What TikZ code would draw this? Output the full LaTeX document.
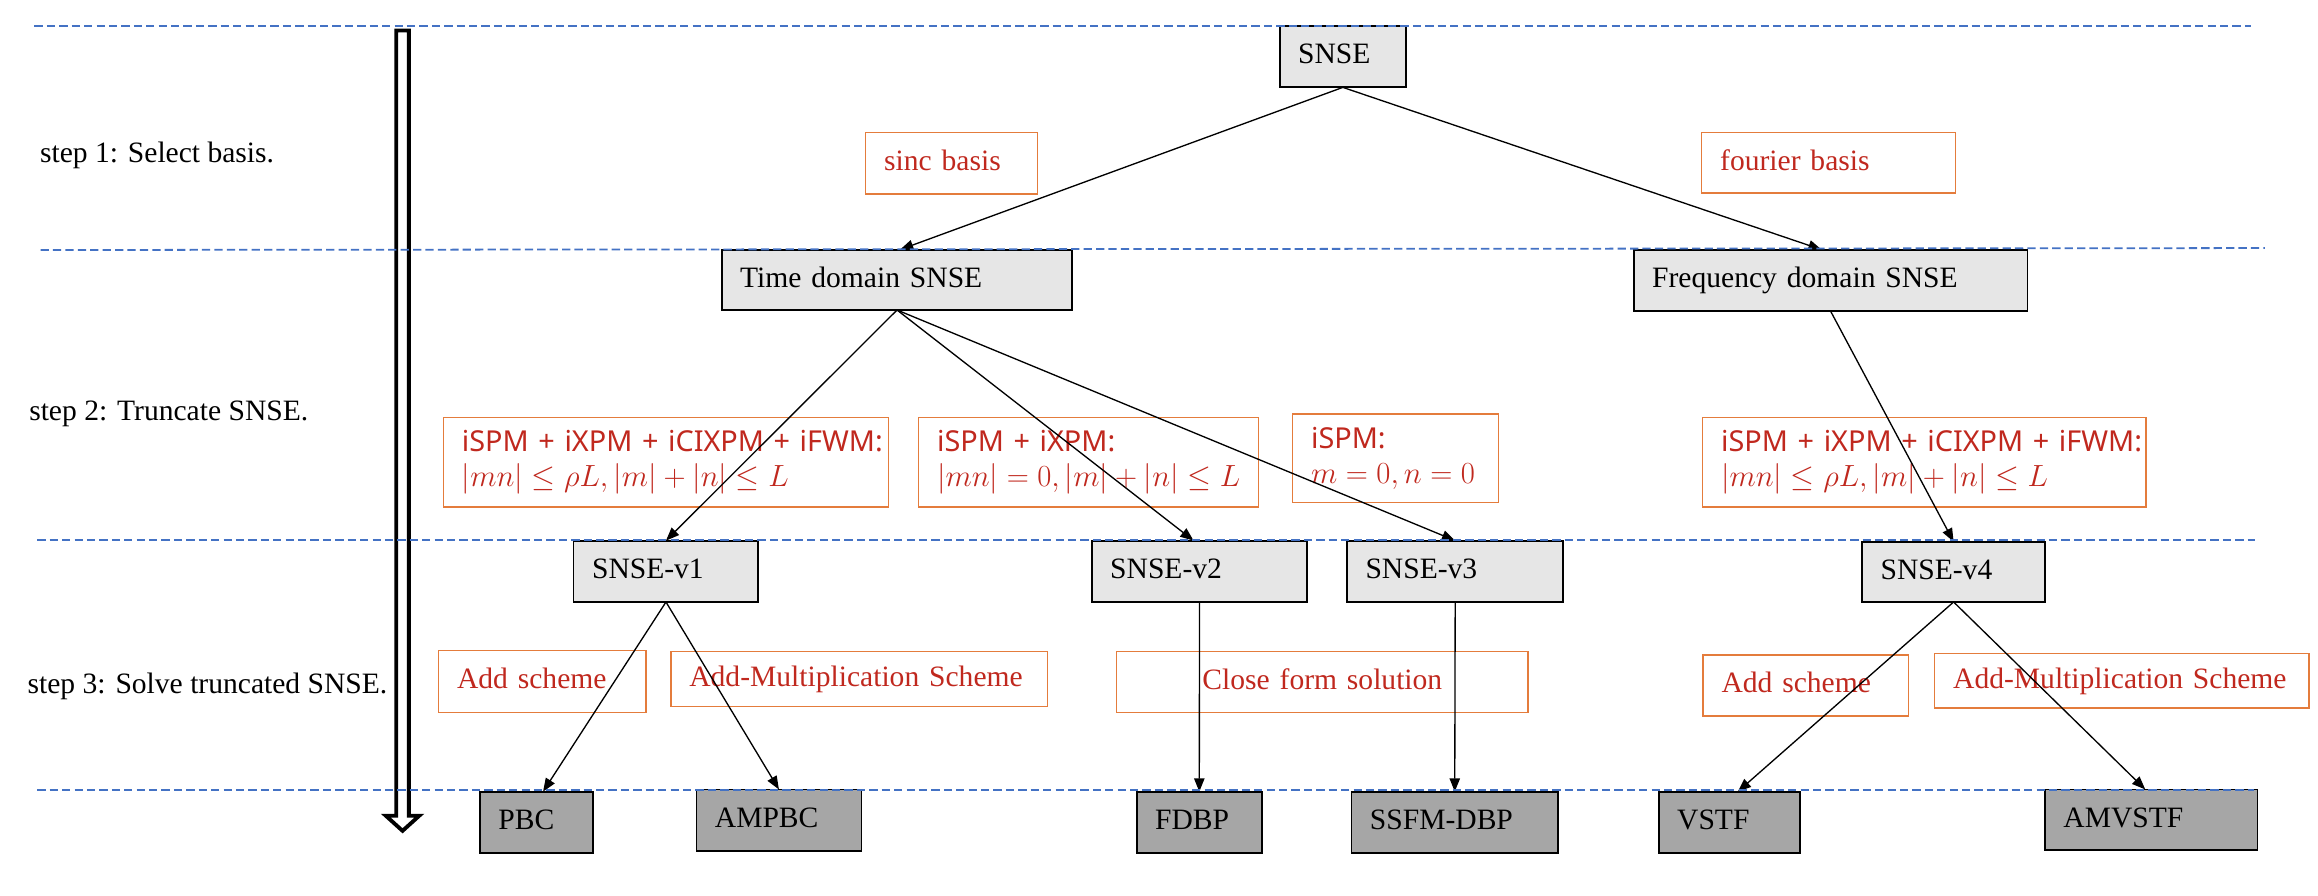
\documentclass[tikz,border=0pt]{standalone}
\usepackage{fontspec}
\setmainfont{Liberation Serif}
\newfontfamily\nsans{Noto Sans}
\usetikzlibrary{arrows.meta}
\definecolor{lightbox}{HTML}{E6E6E6}
\definecolor{darkbox}{HTML}{A6A6A6}
\definecolor{orline}{HTML}{E47C3C}
\definecolor{redtxt}{HTML}{C0281E}
\definecolor{dashblue}{HTML}{4472C4}
\begin{document}
\begin{tikzpicture}[x=1pt,y=-1pt,
  base/.style={anchor=north west, outer sep=0pt, inner xsep=12.5pt, inner ysep=0pt, align=left, font=\fontsize{20}{24}\selectfont, text height=14pt, text depth=4pt},
  gbox/.style={base, draw=black, line width=1.2pt, fill=lightbox},
  dbox/.style={gbox, fill=darkbox},
  obox/.style={base, draw=orline, line width=1pt, text=redtxt},
  tbox/.style={anchor=north west, outer sep=0pt, inner xsep=12.5pt, inner ysep=0pt, align=left, draw=orline, line width=1pt, text=redtxt, font=\nsans\fontsize{19.5}{23.7}\selectfont},
  steplabel/.style={anchor=west, inner sep=0pt, font=\fontsize{20}{24}\selectfont, text height=14pt, text depth=4pt},
  conn/.style={line width=0.9pt, -{Triangle[length=9pt,width=7pt]}},
  sepline/.style={dashblue, line width=1.2pt, dash pattern=on 5.6pt off 2.8pt}
]
\useasboundingbox (0,0) rectangle (1568,606);

% step labels
\node[steplabel] (s1) at (26.9,104.9) {step 1: Select basis.};
\node[steplabel] (s2) at (19.6,279.6) {step 2: Truncate SNSE.};
\node[steplabel] (s3) at (18.5,463.8) {step 3: Solve truncated SNSE.};

% hollow block arrow
\draw[line width=2.6pt, fill=white, miter limit=10] (268,20.6) -- (276.6,20.6) -- (276.6,551.8) -- (283.6,551.8) -- (272.3,562) -- (261,551.8) -- (268,551.8) -- cycle;

% gray nodes
\node[gbox, text width=60.5pt, minimum height=41.7pt] (snse) at (865.6,17.4) {SNSE};
\node[gbox, text width=212.2pt, minimum height=40.8pt] (time) at (488.2,168.9) {Time domain SNSE};
\node[gbox, text width=241.3pt, minimum height=41.5pt] (freq) at (1105.1,168.9) {Frequency domain SNSE};
\node[gbox, text width=100pt, minimum height=41.5pt] (v1) at (388,365.7) {SNSE-v1};
\node[gbox, text width=120.8pt, minimum height=41.5pt] (v2) at (738.5,365.7) {SNSE-v2};
\node[gbox, text width=121.3pt, minimum height=41.5pt] (v3) at (911.2,365.7) {SNSE-v3};
\node[gbox, text width=98.8pt, minimum height=40.8pt] (v4) at (1259.6,366.4) {SNSE-v4};
\node[dbox, text width=51.3pt, minimum height=41.3pt] (pbc) at (324.7,535.5) {PBC};
\node[dbox, text width=86.6pt, minimum height=41.7pt] (ampbc) at (471.1,534) {AMPBC};
\node[dbox, text width=59.7pt, minimum height=41.3pt] (fdbp) at (768.9,535.5) {FDBP};
\node[dbox, text width=114.7pt, minimum height=41.3pt] (ssfm) at (914.2,535.5) {SSFM-DBP};
\node[dbox, text width=70.8pt, minimum height=41.3pt] (vstf) at (1122,535.5) {VSTF};
\node[dbox, text width=118.7pt, minimum height=41pt] (amvstf) at (1383.3,534) {AMVSTF};

% orange label boxes
\node[obox, text width=91.1pt, minimum height=41.4pt] (sinc) at (585.6,89.8) {sinc basis};
\node[obox, text width=146.6pt, minimum height=40.8pt] (fourier) at (1151.1,89.8) {fourier basis};
\node[tbox, text width=275.9pt, minimum height=60.5pt] (t1) at (300,282.5) {\mbox{iSPM + iXPM + iCIXPM + iFWM:}\\ \mbox{$|mn| \leq \rho L, |m| + |n| \leq L$}};
\node[tbox, text width=204.8pt, minimum height=60.5pt] (t2) at (621.4,282.5) {\mbox{iSPM + iXPM:}\\ \mbox{$|mn| = 0, |m| + |n| \leq L$}};
\node[tbox, text width=114.1pt, minimum height=59.9pt] (t3) at (874.4,280.1) {iSPM:\\ \mbox{$m = 0, n = 0$}};
\node[tbox, text width=274.9pt, minimum height=60.5pt] (t4) at (1151.8,282.5) {\mbox{iSPM + iXPM + iCIXPM + iFWM:}\\ \mbox{$|mn| \leq \rho L, |m| + |n| \leq L$}};
\node[obox, text width=115.3pt, minimum height=42pt] (addl) at (296.7,440) {Add scheme};
\node[obox, text width=229.6pt, minimum height=37pt] (aml) at (453.8,440.8) {\mbox{Add-Multiplication Scheme}};
\node[obox, text width=253.2pt, minimum height=41.2pt, align=center] (close) at (755.4,440.8) {Close form solution};
\node[obox, text width=114pt, minimum height=41.4pt] (addr) at (1152,443) {Add scheme};
\node[obox, text width=228.3pt, minimum height=36.8pt] (amr) at (1308.7,442.2) {\mbox{Add-Multiplication Scheme}};

% connectors
\draw[conn] (snse.south) -- ([xshift=2pt]time.north);
\draw[conn] (snse.south) -- ([xshift=-6pt]freq.north);
\draw[conn] (time.south) -- (v1.north);
\draw[conn] (time.south) -- ([xshift=-4pt]v2.north);
\draw[conn] (time.south) -- (v3.north);
\draw[conn] (freq.south) -- (v4.north);
\draw[conn] (v1.south) -- ([xshift=4.5pt]pbc.north);
\draw[conn] (v1.south) -- (ampbc.north);
\draw[conn] (v2.south) -- (fdbp.north);
\draw[conn] (v3.south) -- (ssfm.north);
\draw[conn] (v4.south) -- ([xshift=5.6pt]vstf.north);
\draw[conn] (v4.south) -- ([xshift=-4pt]amvstf.north);

% dashed separators
\draw[sepline] (23.3,17.4) -- (1522.7,17.4);
\draw[sepline] (27.4,169.1) -- (1532,167.8);
\draw[sepline] (25.2,365.3) -- (1525.1,365.3);
\draw[sepline] (25.2,534.5) -- (1525,534.5);
\end{tikzpicture}
\end{document}
